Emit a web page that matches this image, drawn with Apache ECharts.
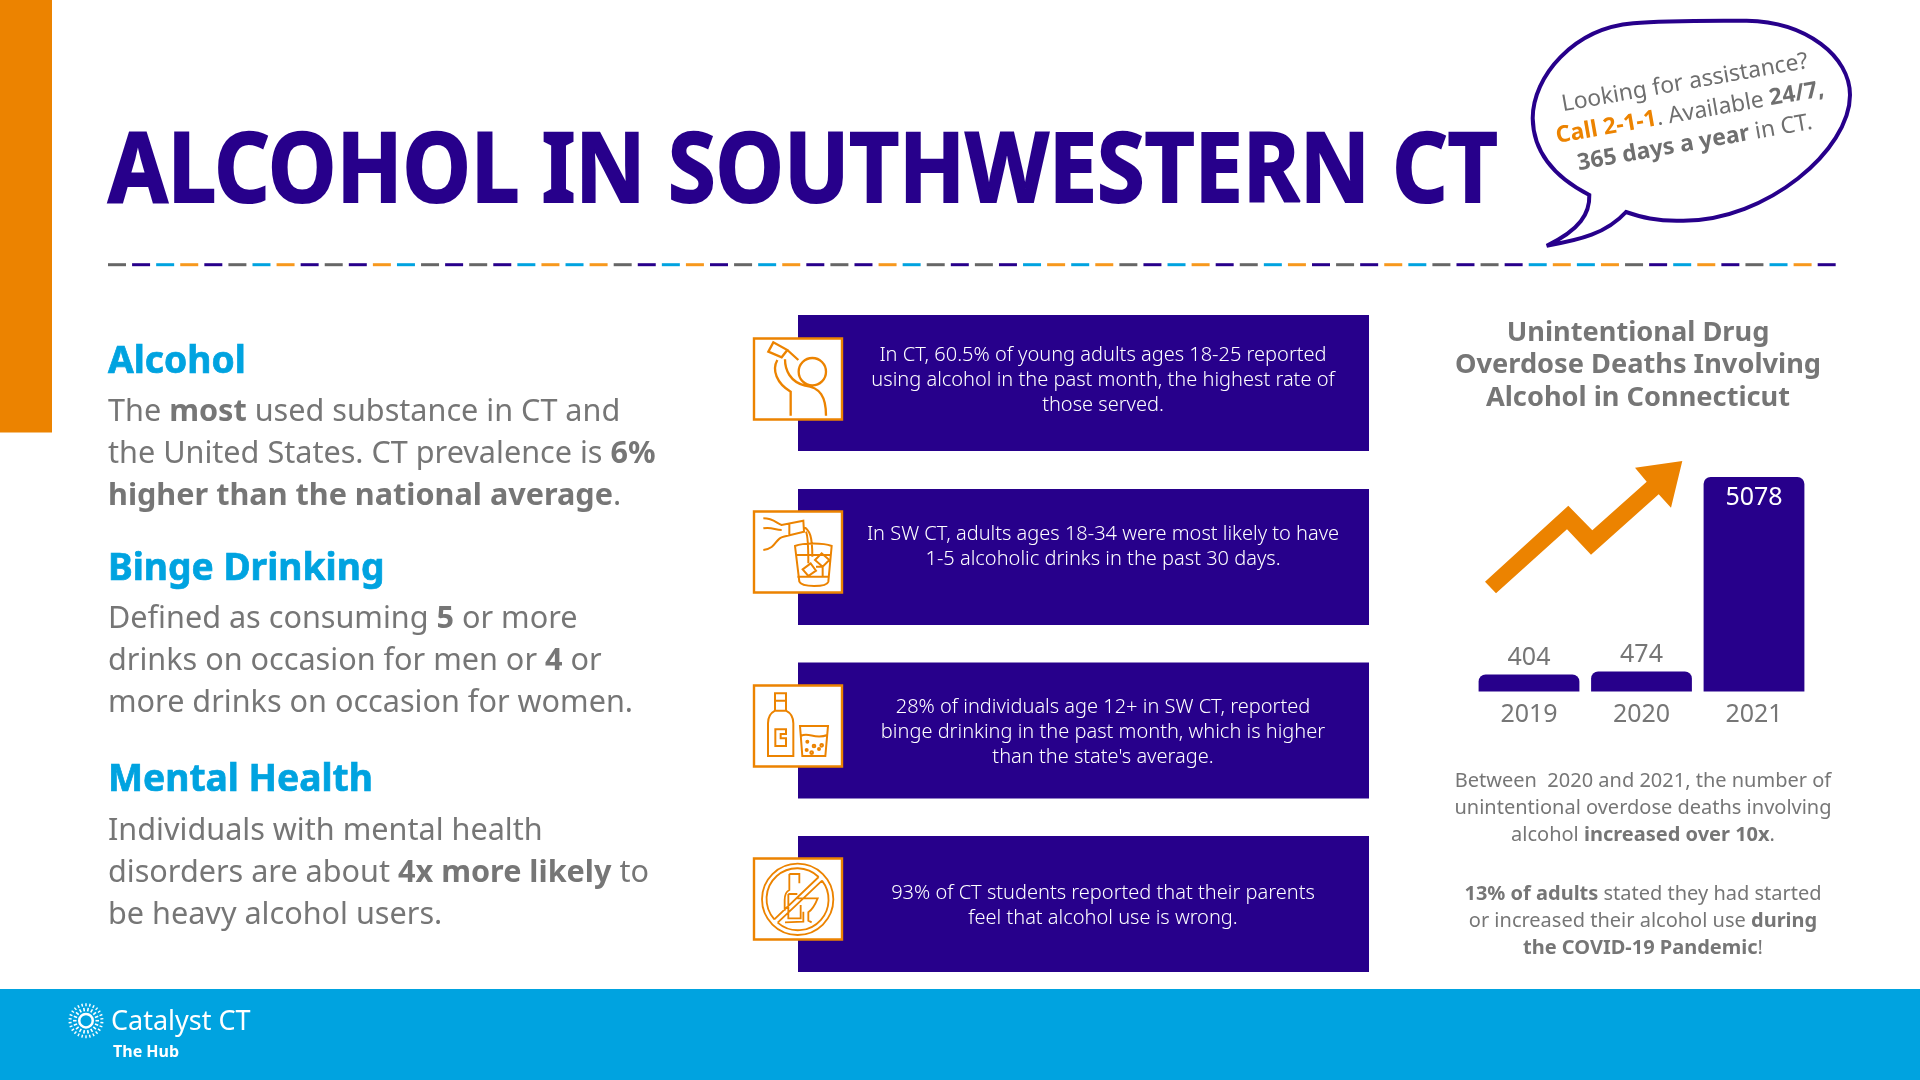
<!DOCTYPE html>
<html>
<head>
<meta charset="utf-8">
<title>Alcohol in Southwestern CT</title>
<script src="https://cdn.jsdelivr.net/npm/echarts@6/dist/echarts.min.js"></script>
<style>
html,body{margin:0;padding:0;background:#fff;}
#main{width:1920px;height:1080px;}
</style>
</head>
<body>
<div id="main"></div>
<script>
// chart data
var years = ['2019', '2020', '2021'];
var deaths = [404, 474, 5078];

// page text, {b|..} = bold
var pageTitle = 'ALCOHOL IN SOUTHWESTERN CT';
var chartTitle = ['Unintentional Drug', 'Overdose Deaths Involving', 'Alcohol in Connecticut'];
var leftHeads = ['Alcohol', 'Binge Drinking', 'Mental Health'];
var leftBodies = [
    ['The {b|most} used substance in CT and', 'the United States. CT prevalence is {b|6%}', '{b|higher than the national average}.'],
    ['Defined as consuming {b|5} or more', 'drinks on occasion for men or {b|4} or', 'more drinks on occasion for women.'],
    ['Individuals with mental health', 'disorders are about {b|4x more likely} to', 'be heavy alcohol users.']
];
var boxTexts = [
    ['In CT, 60.5% of young adults ages 18-25 reported', 'using alcohol in the past month, the highest rate of', 'those served.'],
    ['In SW CT, adults ages 18-34 were most likely to have', '1-5 alcoholic drinks in the past 30 days.'],
    ['28% of individuals age 12+ in SW CT, reported', 'binge drinking in the past month, which is higher', "than the state's average."],
    ['93% of CT students reported that their parents', 'feel that alcohol use is wrong.']
];
var noteLines = [
    'Between  2020 and 2021, the number of',
    'unintentional overdose deaths involving',
    'alcohol {b|increased over 10x}.'
];
var noteLines2 = [
    '{b|13% of adults} stated they had started',
    'or increased their alcohol use {b|during}',
    '{b|the COVID-19 Pandemic}!'
];
var bubbleLines = [
    'Looking for assistance?',
    '{o|Call 2-1-1}. Available {b|24/7,}',
    '{b|365 days a year} in CT.'
];

var PURPLE = '#27008B', BLUE = '#00A3E0', ORANGE = '#EC8300', GRAY = '#767676', DASHORANGE = '#F7981D', DASHGRAY = '#666666';
var FONT = '"Noto Sans"';

function richFor(size, color) {
    return {
        b: {fontFamily: FONT, fontSize: size, fontWeight: 'bold', fill: color},
        o: {fontFamily: FONT, fontSize: size, fontWeight: 'bold', fill: ORANGE}
    };
}

function txt(x, y, s, size, color, align, weight) {
    return {
        type: 'text', x: x, y: y, z: 20,
        style: {
            text: s, fontFamily: FONT, fontSize: size, fontWeight: weight || 'normal', fill: color,
            align: align || 'left', verticalAlign: 'middle', rich: richFor(size, color)
        }
    };
}

// icons + bubble as svg paths, coords are from 3x crops
var icons = [
    {name: 'iconDrinker', ox: 740, oy: 300, w: 7, d: 'M100,127 L85,155 L125,172 L142,150 Z M142,150 L175,180 M258,215 A41,41 0 1 1 176,215 A41,41 0 1 1 258,215 M112,180 C95,210 110,250 152,275 L152,347 M135,178 C135,210 150,245 195,257 C240,262 258,290 258,347'},
    {name: 'iconPour', ox: 740, oy: 300, w: 6, d: 'M70,655 C100,655 110,670 125,675 L190,662 L192,695 L130,710 C105,715 110,745 70,750 M70,685 C95,680 105,690 125,690 M148,672 L148,705 M190,680 C210,690 217,710 217,770 M198,695 C205,710 205,740 205,790 M165,738 C190,728 250,728 275,738 L265,845 C260,862 185,862 178,845 Z M170,765 L270,765 M172,830 L268,830 M188,808 L212,790 L228,812 L205,828 Z M225,780 L245,760 L268,780 L248,800 Z M228,800 L248,800 L248,830'},
    {name: 'iconBottle', ox: 740, oy: 670, w: 6, d: 'M105,70 L138,70 L138,122 L105,122 Z M105,92 L138,92 M105,122 C90,130 84,140 84,160 L84,258 L160,258 L160,160 C160,140 150,128 138,122 M106,178 L138,178 L138,192 L122,192 L122,205 L138,205 L138,228 L106,228 Z M180,168 L264,168 L256,258 L187,258 Z M183,198 C205,185 225,210 262,195 M199,215 a3,3 0 1 0 6,0 a3,3 0 1 0 -6,0 M218,228 a4,4 0 1 0 8,0 a4,4 0 1 0 -8,0 M241,226 a4,4 0 1 0 8,0 a4,4 0 1 0 -8,0 M197,240 a3,3 0 1 0 6,0 a3,3 0 1 0 -6,0 M234,237 a3,3 0 1 0 6,0 a3,3 0 1 0 -6,0 M211,248 a4,4 0 1 0 8,0 a4,4 0 1 0 -8,0'},
    {name: 'iconNoDrink', ox: 740, oy: 670, w: 5.5, d: 'M280,688 A107,107 0 1 1 66,688 A107,107 0 1 1 280,688 M103,748 A92,92 0 0 1 236,621 M113,758 A92,92 0 0 0 246,632 M103,748 L236,621 M113,758 L246,632 M148,612 L178,612 L178,640 M148,612 L148,660 C138,665 134,672 134,690 L134,722 M145,672 L172,672 M145,672 L145,745 L182,745 L182,705 M172,685 L233,685 C225,705 215,720 205,727 L205,752 L215,757 M190,725 L190,755 L135,757'}
];
var bubblePath = 'M1546.7,245.7 C1580,230 1590,213.3 1589.3,195 C1560,180 1533.3,156.7 1532.7,118.3 C1532.7,76.7 1573.3,28.3 1633.3,23.3 C1666.7,20 1716.7,20.7 1746.7,20.7 C1806.7,21.7 1850,56.7 1850,95 C1850,150 1766.7,220.7 1683.3,220.7 C1656.7,221.7 1640,216.7 1626,212 C1606.7,233.3 1580,240 1546.7,245.7 Z';

echarts.graphic.registerShape('speechBubble', echarts.graphic.extendPath(bubblePath));
icons.forEach(function (ic) {
    echarts.graphic.registerShape(ic.name, echarts.graphic.extendPath(ic.d));
});

var els = [];

// orange side strip + footer
els.push({type: 'rect', shape: {x: 0, y: 0, width: 52, height: 432.5}, style: {fill: ORANGE}});
els.push({type: 'rect', shape: {x: 0, y: 989, width: 1920, height: 91}, style: {fill: BLUE}});

// title, squeezed since the original face is condensed and heavy
var titleEl = txt(108, 175, pageTitle, 96, PURPLE, 'left', 'bold');
titleEl.scaleX = 0.9;
titleEl.style.stroke = PURPLE;
titleEl.style.lineWidth = 2;
titleEl.style.lineJoin = 'round';
els.push(titleEl);

// dashed rule
var dashColors = [DASHGRAY, PURPLE, BLUE, DASHORANGE, PURPLE, DASHGRAY, BLUE, DASHORANGE, PURPLE, DASHGRAY, PURPLE,
    DASHORANGE, BLUE, DASHGRAY, PURPLE, DASHGRAY, PURPLE, BLUE, DASHORANGE, BLUE, DASHORANGE];
for (var i = 0; i < 72; i++) {
    els.push({type: 'rect', shape: {x: 108 + i * 24.08, y: 263.2, width: 18, height: 3}, style: {fill: dashColors[i % dashColors.length]}});
}

// speech bubble
els.push({type: 'speechBubble', z: 5, style: {fill: '#fff', stroke: PURPLE, lineWidth: 4, miterLimit: 3}});
var bubbleY = [[1685, 83], [1690, 113], [1695, 143]];
bubbleLines.forEach(function (s, i) {
    var t = txt(bubbleY[i][0], bubbleY[i][1], s, 22.9, '#6F6F6F', 'center');
    t.rotation = 0.175;
    els.push(t);
});

// left column
var headY = [362.5, 569.5, 780.5];
var bodyY = [[412, 454, 496], [619, 661, 703], [831, 873, 915.5]];
leftHeads.forEach(function (h, i) {
    var head = txt(108, headY[i], h, 37.2, BLUE, 'left', 'bold');
    head.style.stroke = BLUE;
    head.style.lineWidth = 0.7;
    els.push(head);
    leftBodies[i].forEach(function (s, j) {
        els.push(txt(108, bodyY[i][j], s, 30.6, GRAY));
    });
});

// middle boxes
var boxTop = [315, 489, 662.5, 836];
var iconTop = [338.5, 511.5, 685.5, 858.5];
var boxLineY = [[355, 380, 405], [534, 559], [707, 732, 757], [893, 918]];
boxTexts.forEach(function (lines, i) {
    els.push({type: 'rect', shape: {x: 798, y: boxTop[i], width: 571, height: 136}, style: {fill: PURPLE}});
    els.push({type: 'rect', z: 10, shape: {x: 754, y: iconTop[i], width: 88, height: 81}, style: {fill: '#fff', stroke: ORANGE, lineWidth: 2.4}});
    els.push({type: icons[i].name, z: 11, x: icons[i].ox, y: icons[i].oy, scaleX: 1 / 3, scaleY: 1 / 3,
        style: {fill: null, stroke: ORANGE, lineWidth: icons[i].w}});
    lines.forEach(function (s, j) {
        els.push(txt(1103, boxLineY[i][j], s, 20, '#fff', 'center', 300));
    });
});

// right column
var chartTitleY = [333, 365, 398];
chartTitle.forEach(function (s, i) {
    els.push(txt(1638, chartTitleY[i], s, 27.2, GRAY, 'center', 'bold'));
});
var noteY = [781, 808, 835];
noteLines.forEach(function (s, i) { els.push(txt(1643, noteY[i], s, 20, GRAY, 'center')); });
var noteY2 = [894, 921, 948];
noteLines2.forEach(function (s, i) { els.push(txt(1643, noteY2[i], s, 20, GRAY, 'center')); });

// rising arrow
els.push({type: 'polygon', z: 6, shape: {points: [[1485, 581.7], [1568.3, 505.7], [1592.3, 530.3], [1646.7, 481.7], [1635, 467.7],
    [1682.3, 461], [1671, 507.7], [1658.7, 494.3], [1591, 554.7], [1567, 529.3], [1496, 593.3]]}, style: {fill: ORANGE}});

// footer logo
var rays = [[9.5, 13, 1.6, 18], [14.5, 17.5, 1.4, 26]];
rays.forEach(function (r, k) {
    for (var a = 0; a < r[3]; a++) {
        var ang = (a + k * 0.5) / r[3] * Math.PI * 2;
        els.push({type: 'line', z: 21, shape: {x1: 86 + r[0] * Math.cos(ang), y1: 1020.7 + r[0] * Math.sin(ang), x2: 86 + r[1] * Math.cos(ang), y2: 1020.7 + r[1] * Math.sin(ang)},
            style: {stroke: '#fff', lineWidth: r[2]}});
    }
});
els.push({type: 'ring', z: 21, shape: {cx: 86, cy: 1020.7, r: 8, r0: 5.5}, style: {fill: '#fff'}});
els.push(txt(111, 1022, 'Catalyst CT', 27, '#fff', 'left'));
els.push(txt(113, 1052, 'The Hub', 16, '#fff', 'left', 'bold'));

var myChart = echarts.init(document.getElementById('main'));
myChart.setOption({
    animation: false,
    grid: {left: 1472.75, width: 337.5, top: 477, height: 214.5},
    xAxis: {
        type: 'category',
        data: years,
        axisLine: {show: false},
        axisTick: {show: false},
        axisLabel: {color: GRAY, fontFamily: FONT, fontSize: 25, margin: 11}
    },
    yAxis: {type: 'value', min: 0, max: 5078, show: false},
    series: [{
        type: 'bar',
        barCategoryGap: '10.4%',
        itemStyle: {color: PURPLE, borderRadius: [7, 7, 0, 0]},
        data: deaths.map(function (v) {
            var big = v === Math.max.apply(null, deaths);
            return {
                value: v,
                label: {
                    show: true,
                    position: big ? 'insideTop' : 'top',
                    distance: big ? 8 : 4,
                    color: big ? '#fff' : GRAY,
                    fontFamily: FONT,
                    fontSize: 25
                }
            };
        })
    }],
    graphic: {elements: els}
});
</script>
</body>
</html>
